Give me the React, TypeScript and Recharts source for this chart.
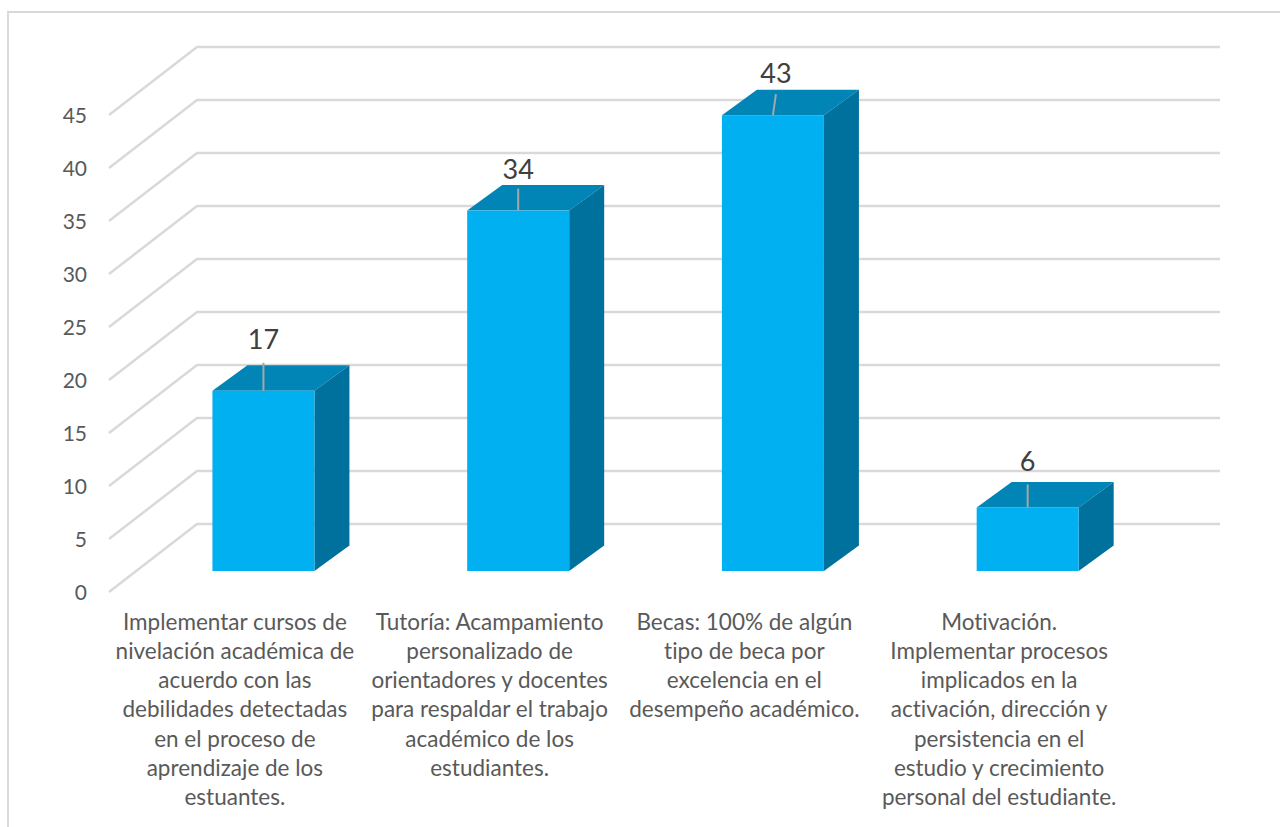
import React from 'react';
import { BarChart, Bar, XAxis, YAxis, CartesianGrid, LabelList } from 'recharts';

const categories = [
  'Implementar cursos de\nnivelación académica de\nacuerdo con las\ndebilidades detectadas\nen el proceso de\naprendizaje de los\nestuantes.',
  'Tutoría: Acampamiento\npersonalizado de\norientadores y docentes\npara respaldar el trabajo\nacadémico de los\nestudiantes.',
  'Becas: 100% de algún\ntipo de beca por\nexcelencia en el\ndesempeño académico.',
  'Motivación.\nImplementar procesos\nimplicados en la\nactivación, dirección y\npersistencia en el\nestudio y crecimiento\npersonal del estudiante.',
];
const values = [17, 34, 43, 6];
const yTicks = [0, 5, 10, 15, 20, 25, 30, 35, 40, 45];

const data = categories.map((category, i) => ({ category, value: values[i] }));

// fake 3d offsets
const DEPTH_X = 35;
const DEPTH_Y = 25.5;
const WALL_FRONT = 21;
const WALL_BACK = 47;
const FONT = 'Lato, Carlito, sans-serif';

// distance of each data label above the bar, and the lean of its leader line
const labelGap = [52.5, 42.5, 43, 46.5];
const leaderTop = [28, 22, 21, 23];
const leaderLean = [0, 0, 3, 0];

const Box3D = ({ x, y, width, height }: any) => {
  const r = x + width;
  const b = y + height;
  return (
    <g>
      <polygon points={`${x},${y} ${r},${y} ${r + DEPTH_X},${y - DEPTH_Y} ${x + DEPTH_X},${y - DEPTH_Y}`} fill="#0085B6" />
      <polygon points={`${r},${y} ${r + DEPTH_X},${y - DEPTH_Y} ${r + DEPTH_X},${b - DEPTH_Y} ${r},${b}`} fill="#00709C" />
      <rect x={x} y={y} width={width} height={height} fill="#00B0F0" />
    </g>
  );
};

const WallLine = ({ x2, y1 }: any) => (
  <path
    d={`M109,${y1 + WALL_FRONT} L${197},${y1 - WALL_BACK} L${x2 + 65},${y1 - WALL_BACK}`}
    fill="none"
    stroke="#D9D9D9"
    strokeWidth={2.5}
  />
);

const ValueLabel = ({ x, y, width, value, index }: any) => {
  const cx = x + width / 2;
  return (
    <g>
      <line x1={cx} y1={y} x2={cx + leaderLean[index]} y2={y - leaderTop[index]} stroke="#A6A6A6" strokeWidth={2} />
      <text x={cx + leaderLean[index]} y={y - labelGap[index]} textAnchor="middle" dominantBaseline="central" fontSize={27} fontFamily={FONT} fill="#404040">
        {value}
      </text>
    </g>
  );
};

const CategoryTick = ({ x, y, payload }: any) => (
  <text x={x - 28.5} y={y} textAnchor="middle" fontSize={22.5} fontFamily={FONT} fill="#595959" style={{ fontVariantLigatures: 'none' }}>
    {String(payload.value).split('\n').map((line, i) => (
      <tspan key={i} x={x - 28.5} dy={i === 0 ? 0 : 29.3}>{line}</tspan>
    ))}
  </text>
);

const ValueTick = ({ y, payload }: any) => (
  <text x={87} y={y + 20} textAnchor="end" dominantBaseline="central" fontSize={21} fontFamily={FONT} fill="#595959">
    {payload.value}
  </text>
);

export default function App() {
  return (
    <div style={{ position: 'absolute', left: 0, top: 0, width: 1280, height: 827, overflow: 'hidden', background: '#fff' }}>
      <div style={{ position: 'absolute', left: 7, top: 11, width: 1300, height: 840, border: '2px solid #D9D9D9', boxSizing: 'border-box' }} />
      <div style={{ position: 'absolute', left: 0, top: 0 }}>
        <BarChart
          width={1280}
          height={827}
          data={data}
          margin={{ top: 94, right: 125, bottom: 16, left: 76 }}
          barCategoryGap="30%"
        >
          <CartesianGrid vertical={false} horizontal={(props: any) => <WallLine key={props.key} {...props} />} />
          <XAxis
            dataKey="category"
            interval={0}
            height={240}
            axisLine={false}
            tickLine={false}
            tick={<CategoryTick />}
            tickMargin={52.5}
          />
          <YAxis
            domain={[0, 45]}
            ticks={yTicks}
            width={60}
            axisLine={false}
            tickLine={false}
            tick={<ValueTick />}
          />
          <Bar dataKey="value" shape={<Box3D />} isAnimationActive={false}>
            <LabelList dataKey="value" content={<ValueLabel />} />
          </Bar>
        </BarChart>
      </div>
    </div>
  );
}
